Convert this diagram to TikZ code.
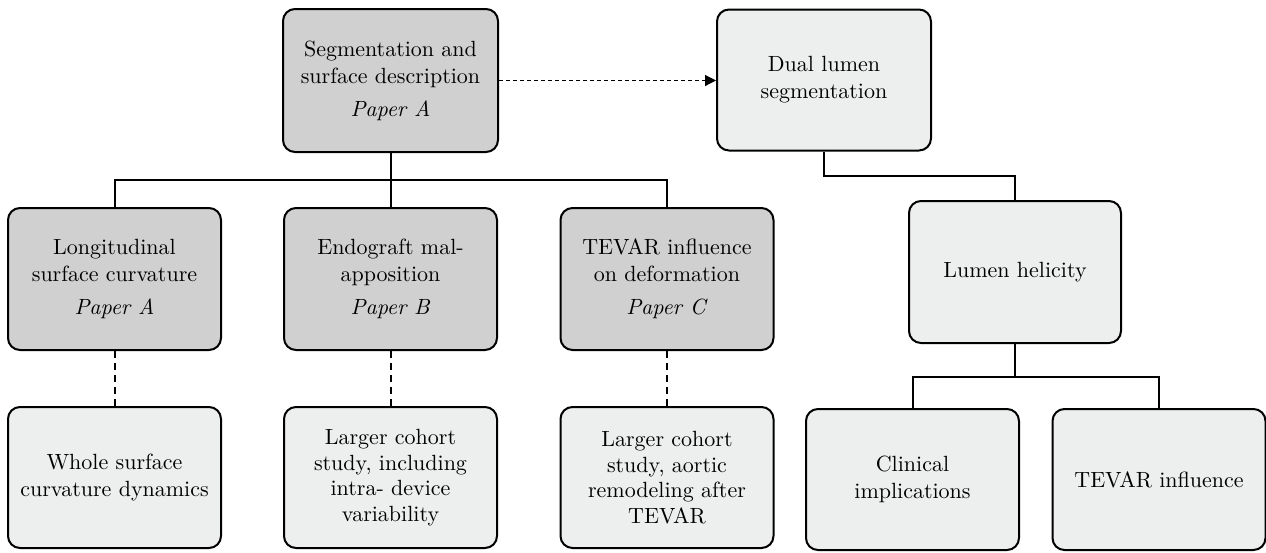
\documentclass[tikz,border=0pt]{standalone}
\usepackage{fontspec}
\setmainfont{lmroman10-regular.otf}[ItalicFont=lmroman10-italic.otf, BoldFont=lmroman10-bold.otf]
\usetikzlibrary{arrows.meta}
\definecolor{darkfill}{RGB}{208,208,208}
\definecolor{lightfill}{RGB}{237,238,238}
\tikzset{
  boxbase/.style={draw=black, line width=2pt, rounded corners=12pt, align=center,
    minimum width=213pt, minimum height=142pt, inner sep=0pt,
    font=\fontsize{22}{27}\selectfont},
  darkbox/.style={boxbase, fill=darkfill},
  lightbox/.style={boxbase, fill=lightfill},
  conn/.style={draw=black, line width=2pt},
  dashconn/.style={draw=black, line width=2pt, dash pattern=on 7pt off 5pt},
  dasharrow/.style={draw=black, line width=1.1pt, dash pattern=on 4pt off 3pt,
    -{Triangle[length=11pt,width=11pt]}}
}
\begin{document}
\begin{tikzpicture}[x=1pt,y=-1pt]
\useasboundingbox (0,0) rectangle (1266,552);
\fill[white] (0,0) rectangle (1266,552);

\node[darkbox, minimum width=215pt, minimum height=143pt] (A) at (390.5,80.5)
  {Segmentation and\\surface description\\[6pt]\textit{Paper A}};
\node[lightbox, minimum width=214pt, minimum height=141pt] (dual) at (824,80)
  {Dual lumen\\segmentation};

\node[darkbox] (n1) at (114.5,279) {Longitudinal\\surface curvature\\[6pt]\textit{Paper A}};
\node[darkbox] (n2) at (390.5,279) {Endograft mal-\\apposition\\[6pt]\textit{Paper B}};
\node[darkbox] (n3) at (667,279) {TEVAR influence\\on deformation\\[6pt]\textit{Paper C}};

\node[lightbox, minimum height=141pt] (m1) at (114.5,477.5) {Whole surface\\curvature dynamics};
\node[lightbox, minimum height=141pt, font=\fontsize{22}{25.5}\selectfont] (m2) at (390.5,477.5)
  {Larger cohort\\study, including\\intra- device\\variability};
\node[lightbox, minimum height=141pt, font=\fontsize{22}{25.5}\selectfont] (m3) at (667,477.5)
  {Larger cohort\\study, aortic\\remodeling after\\TEVAR};

\node[lightbox, minimum width=212pt] (lum) at (1015,272) {Lumen helicity};
\node[lightbox, minimum height=141pt] (cli) at (912.5,479.5) {Clinical\\implications};
\node[lightbox, minimum height=141pt] (tin) at (1159,479.5) {TEVAR influence};

\coordinate (j1) at (390.5,180);
\coordinate (j2) at (824,176);
\coordinate (j3) at (1015,377);

\draw[conn] (A.south) -- (n2.north);
\draw[conn] (n1.north) |- (j1) -| (n3.north);

\draw[conn] (dual.south) |- (j2) -| (lum.north);

\draw[conn] (lum.south) -- (j3);
\draw[conn] (cli.north) |- (j3) -| (tin.north);

\draw[dashconn] (n1.south) -- (m1.north);
\draw[dashconn] (n2.south) -- (m2.north);
\draw[dashconn] (n3.south) -- (m3.north);

\draw[dasharrow] (A.east) -- (A.east -| dual.west);
\end{tikzpicture}
\end{document}
